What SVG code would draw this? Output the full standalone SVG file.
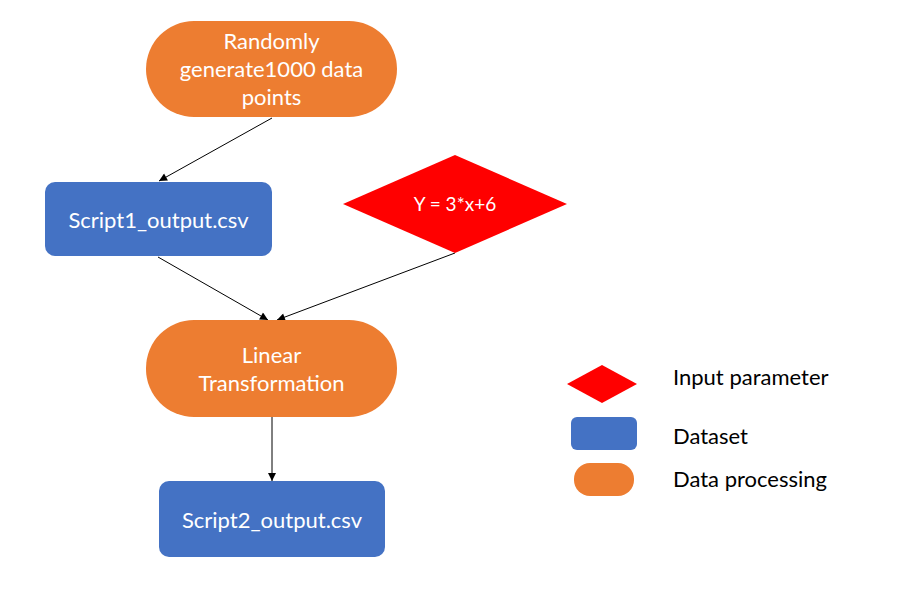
<svg xmlns="http://www.w3.org/2000/svg" width="898" height="603" viewBox="0 0 898 603">
<style>
.proc{fill:#ED7D31}
.data{fill:#4472C4}
.param{fill:#FF0000}
.t{font-family:Lato,"Liberation Sans",sans-serif;fill:#ffffff;text-anchor:middle;font-size:22px}
.tp{font-family:Lato,"Liberation Sans",sans-serif;fill:#ffffff;text-anchor:middle;font-size:19px}
.lg{font-family:Lato,"Liberation Sans",sans-serif;fill:#000000;font-size:22px}
.c{stroke:#000;stroke-width:1;fill:none;marker-end:url(#ah)}
</style>
<defs>
<marker id="ah" viewBox="0 0 10 10" refX="10" refY="5" markerWidth="9" markerHeight="8" markerUnits="userSpaceOnUse" orient="auto">
<path d="M0,0 L10,5 L0,10 Z" fill="#000"/>
</marker>
</defs>
<rect width="898" height="603" fill="#ffffff"/>
<g id="connectors">
<line class="c" x1="272" y1="118" x2="159" y2="181"/>
<line class="c" x1="158" y1="257" x2="268" y2="320"/>
<line class="c" x1="455" y1="253" x2="277" y2="320"/>
<line class="c" x1="272" y1="417" x2="272" y2="481"/>
</g>
<g id="node-generate">
<rect class="proc" x="146" y="21" width="251" height="96" rx="48" ry="48"/>
<text class="t" x="271.5" y="49">Randomly</text>
<text class="t" x="271.5" y="77">generate1000 data</text>
<text class="t" x="271.5" y="105">points</text>
</g>
<g id="node-script1">
<rect class="data" x="45" y="182" width="227" height="74" rx="10" ry="10"/>
<text class="t" x="158.5" y="228">Script1_output.csv</text>
</g>
<g id="node-param">
<polygon class="param" points="455,155 567,204 455,253 343,204"/>
<text class="tp" x="455" y="211">Y = 3*x+6</text>
</g>
<g id="node-linear">
<rect class="proc" x="146" y="320" width="251" height="97" rx="48" ry="48"/>
<text class="t" x="271.5" y="363">Linear</text>
<text class="t" x="271.5" y="391">Transformation</text>
</g>
<g id="node-script2">
<rect class="data" x="159" y="481" width="226" height="76" rx="10" ry="10"/>
<text class="t" x="272" y="528">Script2_output.csv</text>
</g>
<g id="legend">
<polygon class="param" points="602,365 637,384 602,403 567,384"/>
<rect class="data" x="571" y="417" width="66" height="33" rx="6" ry="6"/>
<rect class="proc" x="574" y="463" width="60" height="33" rx="16" ry="16"/>
<text class="lg" x="673" y="385">Input parameter</text>
<text class="lg" x="673" y="444">Dataset</text>
<text class="lg" x="673" y="487">Data processing</text>
</g>
</svg>
